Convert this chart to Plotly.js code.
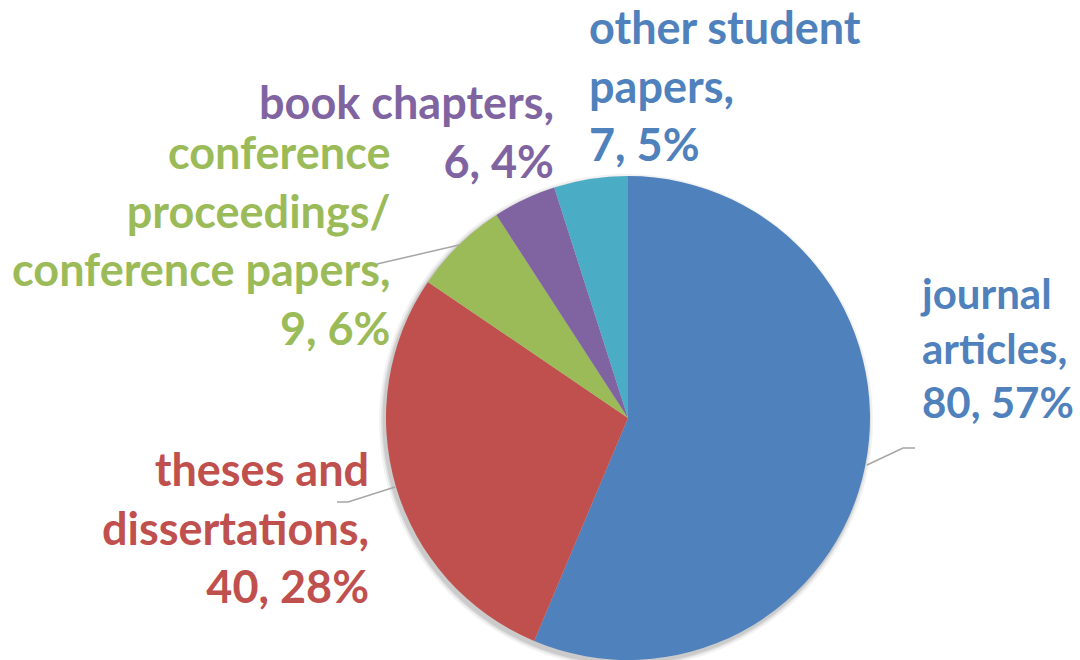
<!DOCTYPE html>
<html>
<head>
<meta charset="utf-8">
<script src="https://cdn.plot.ly/plotly-3.0.1.min.js"></script>
<style>html,body{margin:0;padding:0;background:#fff;}#chart{width:1080px;height:660px;}</style>
</head>
<body>
<div id="chart"></div>
<script>
const categories = ["journal articles", "theses and dissertations", "conference proceedings/ conference papers", "book chapters", "other student papers"];
const counts = [80, 40, 9, 6, 7];
const percentLabels = ["57%", "28%", "6%", "4%", "5%"];
const labelLines = [
  ["journal", "articles,"],
  ["theses and", "dissertations,"],
  ["conference", "proceedings/", "conference papers,"],
  ["book chapters,"],
  ["other student", "papers,"]
];
const sliceColors = ["#4F81BD", "#C0504D", "#9BBB59", "#8064A2", "#4BACC6"];
const labelColors = ["#4F81BD", "#C0504D", "#9BBB59", "#8064A2", "#4F81BD"];

const W = 1080, H = 660;
const cx = 628, cy = 418, R = 242;
const px = x => x / W;
const py = y => 1 - y / H;

// label placement: [anchorX(px), centerY(px), xanchor, fontSize]
const labelPos = [
  [918, 347, "left", 42],
  [371, 527, "right", 45],
  [392, 240, "right", 45],
  [556, 132, "right", 45],
  [587, 85, "left", 45]
];
const leaders = [
  [[867, 465], [903, 448], [915, 448]],
  [[395, 487], [348, 502], [337, 502]],
  [[459, 245], [377, 264]],
  null,
  null
];

const trace = {
  type: "pie",
  labels: categories,
  values: counts,
  sort: false,
  direction: "clockwise",
  rotation: 0,
  marker: {colors: sliceColors, line: {width: 0}},
  textinfo: "none",
  hoverinfo: "label+value+percent",
  showlegend: false,
  domain: {x: [px(cx - R), px(cx + R)], y: [py(cy + R), py(cy - R)]}
};

const annotations = categories.map((c, i) => {
  const lines = labelLines[i].concat([counts[i] + ", " + percentLabels[i]]);
  return {
    xref: "paper", yref: "paper",
    x: px(labelPos[i][0]), y: py(labelPos[i][1]),
    xanchor: labelPos[i][2], yanchor: "middle",
    align: labelPos[i][2],
    showarrow: false,
    text: lines.map(l => "<b>" + l + "</b>").join("<br>"),
    font: {family: "Lato, sans-serif", size: labelPos[i][3], color: labelColors[i]}
  };
});

const shapes = [];
// soft shadow
[[5, 0.05], [3, 0.07], [1.5, 0.09]].forEach(([d, o]) => {
  shapes.push({type: "circle", xref: "paper", yref: "paper", layer: "below",
    x0: px(cx - R - d - 2), x1: px(cx + R + d - 2), y0: py(cy + R + d + 3), y1: py(cy - R - d + 3),
    fillcolor: "rgba(0,0,0," + o + ")", line: {width: 0}});
});
leaders.forEach(pts => {
  if (!pts) return;
  const path = pts.map((p, k) => (k ? "L" : "M") + px(p[0]) + "," + py(p[1])).join(" ");
  shapes.push({type: "path", xref: "paper", yref: "paper", path: path, line: {color: "#A6A6A6", width: 1.5}});
});

const layout = {
  width: W, height: H,
  margin: {l: 0, r: 0, t: 0, b: 0},
  paper_bgcolor: "#ffffff",
  plot_bgcolor: "#ffffff",
  annotations: annotations,
  shapes: shapes
};

Plotly.newPlot("chart", [trace], layout, {displayModeBar: false, staticPlot: true});
</script>
</body>
</html>
